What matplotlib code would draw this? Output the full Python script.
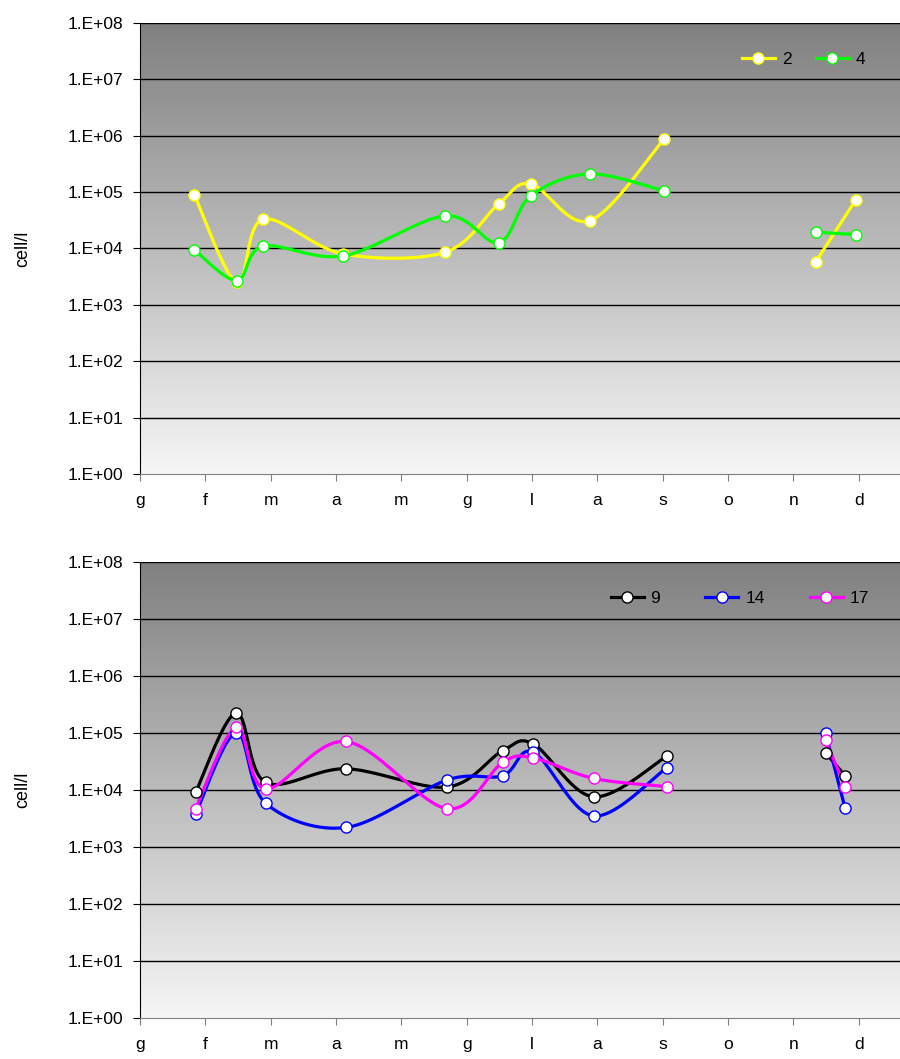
import numpy as np
import matplotlib
matplotlib.use("Agg")
import matplotlib.pyplot as plt
from matplotlib.colors import LinearSegmentedColormap

plt.rcParams['font.family'] = ['Liberation Sans', 'DejaVu Sans']

months = ['g', 'f', 'm', 'a', 'm', 'g', 'l', 'a', 's', 'o', 'n', 'd']

# sampling dates as month fractions (g = 0)
x_top = [0.83, 1.48, 1.88, 3.11, 4.67, 5.49, 5.98, 6.88, 8.02, 10.34, 10.95]
st2 = [9.0e4, 2.5e3, 3.3e4, 8.0e3, 8.6e3, 6.2e4, 1.4e5, 3.1e4, 8.8e5, 5.8e3, 7.2e4]
st4 = [9.5e3, 2.7e3, 1.1e4, 7.4e3, 3.8e4, 1.27e4, 8.6e4, 2.1e5, 1.05e5, 1.95e4, 1.77e4]

x_bot = [0.85, 1.47, 1.92, 3.15, 4.70, 5.55, 6.02, 6.94, 8.06, 10.49, 10.79]
st9 = [9.1e3, 2.24e5, 1.36e4, 2.36e4, 1.13e4, 4.9e4, 6.4e4, 7.6e3, 3.9e4, 4.5e4, 1.78e4]
st14 = [3.8e3, 1.02e5, 5.9e3, 2.2e3, 1.5e4, 1.78e4, 4.6e4, 3.5e3, 2.46e4, 1.0e5, 4.8e3]
st17 = [4.7e3, 1.25e5, 1.05e4, 7.1e4, 4.7e3, 3.05e4, 3.65e4, 1.6e4, 1.15e4, 7.4e4, 1.15e4]

# index where the series break (no data in october)
gap = 9


def smooth(xs, ys, n=24):
    # Bezier / Catmull-Rom smoothing like the spreadsheet "smoothed line"
    px = np.array(xs, float)
    py = np.log10(np.array(ys, float))
    if len(px) < 3:
        return px, 10 ** py
    ox, oy = [], []
    m = len(px)
    t = np.linspace(0, 1, n)
    for i in range(m - 1):
        i0, i3 = max(i - 1, 0), min(i + 2, m - 1)
        b0 = np.array([px[i], py[i]])
        b3 = np.array([px[i + 1], py[i + 1]])
        b1 = b0 + (b3 - np.array([px[i0], py[i0]])) / 6
        b2 = b3 - (np.array([px[i3], py[i3]]) - b0) / 6
        pts = (np.outer((1 - t) ** 3, b0) + np.outer(3 * (1 - t) ** 2 * t, b1)
               + np.outer(3 * (1 - t) * t ** 2, b2) + np.outer(t ** 3, b3))
        ox.extend(pts[:, 0])
        oy.extend(pts[:, 1])
    return np.array(ox), 10 ** np.array(oy)


bg = LinearSegmentedColormap.from_list('bg', ['#f6f6f6', '#808080'])


def draw_panel(ax, xs, series, colors, labels, colspace, anchor_x):
    ax.imshow(np.linspace(0, 1, 256).reshape(-1, 1), cmap=bg, origin='lower',
              extent=(0, 1, 0, 1), transform=ax.transAxes, aspect='auto', zorder=0)
    ax.set_yscale('log')
    ax.set_ylim(1, 1e8)
    ax.set_xlim(0, 11.63)
    for ys, c in zip(series, colors):
        for a, b in [(0, gap), (gap, len(xs))]:
            sx, sy = smooth(xs[a:b], ys[a:b])
            ax.plot(sx, sy, color=c, lw=2.3, zorder=3, solid_capstyle='round')
            ax.plot(xs[a:b], ys[a:b], ls='none', marker='o', ms=8,
                    mfc='white', mec=c, mew=1.0, zorder=4)
    yt = [10.0 ** k for k in range(9)]
    ax.set_yticks(yt)
    ax.set_yticklabels(['1.E+%02d' % k for k in range(9)], fontsize=12.5)
    ax.yaxis.set_minor_locator(matplotlib.ticker.NullLocator())
    for v in yt[1:]:
        ax.axhline(v, color='black', lw=1.0, zorder=1)
    ax.set_xticks(range(12))
    ax.set_xticklabels(months, fontsize=12.5)
    ax.tick_params(axis='x', length=5, pad=9, color='#808080')
    ax.tick_params(axis='y', length=5, pad=7)
    ax.spines['top'].set_visible(False)
    ax.spines['right'].set_visible(False)
    ax.spines['bottom'].set_color('#808080')
    ax.spines['left'].set_color('black')
    ax.set_ylabel('cell/l', fontsize=13, labelpad=26)
    hs = []
    for c, lab in zip(colors, labels):
        h, = ax.plot([], [], color=c, lw=2.3, marker='o', ms=8, mfc='white',
                     mec=c, label=lab)
        hs.append(h)
    ax.legend(handles=hs, loc='upper right', ncol=len(labels), frameon=False,
              fontsize=12.5, handlelength=1.9, handletextpad=0.4,
              columnspacing=colspace, bbox_to_anchor=(anchor_x, 0.97))


fig = plt.figure(figsize=(9, 10.59), dpi=100)
ax1 = fig.add_axes([0.1556, 0.5524, 0.8444, 0.4259])
ax2 = fig.add_axes([0.1556, 0.0387, 0.8444, 0.4306])

draw_panel(ax1, x_top, [st2, st4], ['#ffff00', '#00ff00'], ['2', '4'], 1.4, 0.975)
draw_panel(ax2, x_bot, [st9, st14, st17], ['black', '#0000ff', '#ff00ff'],
           ['9', '14', '17'], 2.6, 0.98)

fig.savefig('out.png', dpi=100)
